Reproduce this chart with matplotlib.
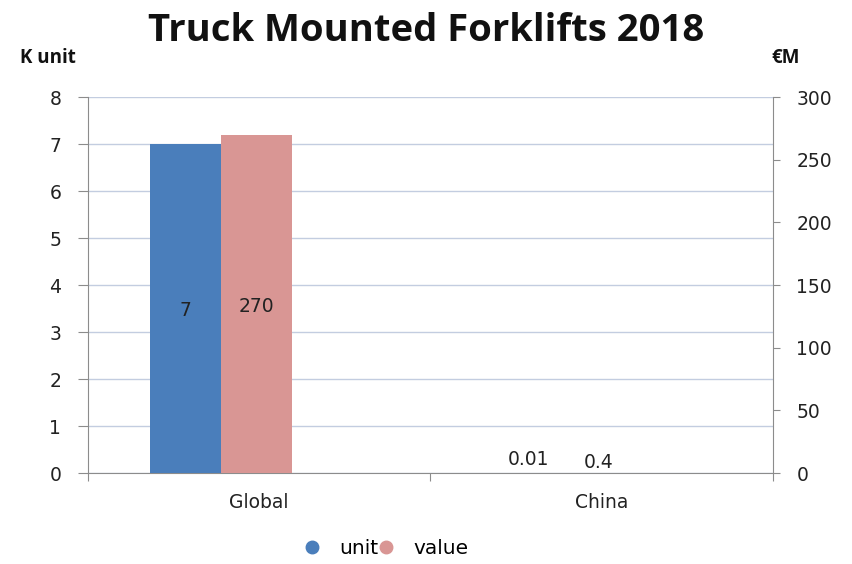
import matplotlib.pyplot as plt
from matplotlib.lines import Line2D

# Truck mounted forklift market, 2018
regions = ["Global", "China"]
units_k = [7, 0.01]        # thousand units
value_em = [270, 0.4]      # million euro
unit_labels = ["7", "0.01"]
value_labels = ["270", "0.4"]

BLUE = "#4A7EBB"
PINK = "#D99694"
GRID = "#C3CDE0"
AXIS = "#8C8C8C"
TXT = "#222222"

fig = plt.figure(figsize=(8.52, 5.64), dpi=100)
ax = fig.add_axes([0.103, 0.161, 0.804, 0.667])
ax2 = ax.twinx()

# bars sit left of the category centre (room for an empty third series)
x = list(range(len(regions)))
w = 0.207
off_unit = -0.318
off_value = off_unit + w
ax.bar([i + off_unit for i in x], units_k, width=w, color=BLUE, align="edge", zorder=3)
ax2.bar([i + off_value for i in x], value_em, width=w, color=PINK, align="edge", zorder=3)

ax.set_xlim(-0.5, 1.5)
ax.set_ylim(0, 8)
ax2.set_ylim(0, 300)
ax.set_yticks(range(0, 9))
ax2.set_yticks(range(0, 301, 50))

ax.set_xticks([-0.5, 0.5, 1.5])
ax.set_xticklabels([])
ax.set_xticks(x, minor=True)
ax.set_xticklabels(regions, minor=True)
ax.tick_params(axis="x", which="minor", length=0, pad=14, labelsize=13.5, labelcolor=TXT)
ax.tick_params(axis="x", which="major", length=6, color=AXIS)

ax.grid(axis="y", color=GRID, linewidth=1, zorder=0)
ax.set_axisbelow(True)
for a in (ax, ax2):
    a.spines["top"].set_visible(False)
    for s in ("left", "right", "bottom"):
        a.spines[s].set_color(AXIS)
ax.spines["right"].set_visible(False)
ax2.spines["left"].set_visible(False)
ax2.spines["bottom"].set_visible(False)

ax.tick_params(axis="y", length=7, color=AXIS, labelsize=13.5, pad=12, labelcolor=TXT)
ax2.tick_params(axis="y", length=5, color=AXIS, labelsize=13.5, pad=12, labelcolor=TXT)

# data labels
for i in x:
    if units_k[i] > 1:
        ax.text(i + off_unit + w / 2, units_k[i] / 2 - 0.05, unit_labels[i], ha="center",
                va="center", fontsize=13.5, color=TXT, zorder=5)
        ax2.text(i + off_value + w / 2, value_em[i] / 2 - 2, value_labels[i], ha="center",
                 va="center", fontsize=13.5, color=TXT, zorder=5)
    else:
        ax.text(i + off_unit + w / 2, units_k[i] + 0.08, unit_labels[i], ha="center",
                va="bottom", fontsize=13.5, color=TXT, zorder=5)
        ax2.text(i + off_value + w / 2, value_em[i] + 0.5, value_labels[i], ha="center",
                 va="bottom", fontsize=13.5, color=TXT, zorder=5)

fig.text(0.5, 0.945, "Truck Mounted Forklifts 2018", ha="center", va="center",
         fontsize=27.5, fontweight="bold", family="Open Sans", color="#111111")
fig.text(0.023, 0.897, "K unit", ha="left", va="center", fontsize=13.5,
         fontweight="bold", family="Open Sans", color="#111111")
fig.text(0.922, 0.897, "€M", ha="center", va="center", fontsize=13.5,
         fontweight="bold", family="Open Sans", color="#111111")

handles = [Line2D([], [], marker="o", linestyle="", color=BLUE, markersize=9),
           Line2D([], [], marker="o", linestyle="", color=PINK, markersize=9)]
fig.legend(handles, ["unit", "value"], loc="center", bbox_to_anchor=(0.452, 0.027),
           ncol=2, frameon=False, fontsize=14.5, handletextpad=0.85, columnspacing=-0.1,
           handlelength=1.0, borderpad=0, borderaxespad=0)

fig.savefig("out.png", dpi=100)
